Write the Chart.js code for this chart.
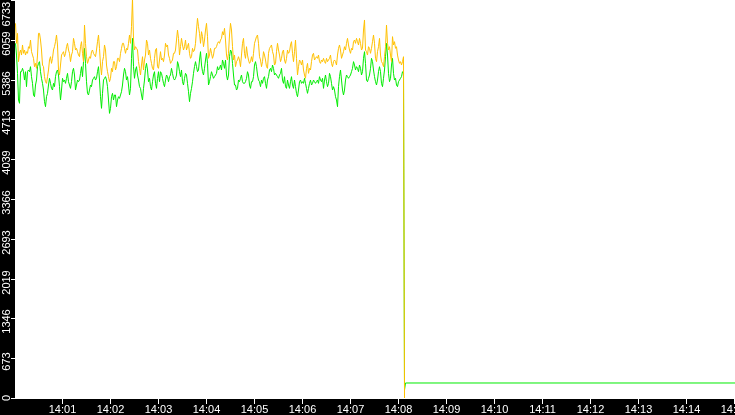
<!DOCTYPE html>
<html><head><meta charset="utf-8">
<script src="https://cdn.jsdelivr.net/npm/chart.js@4.4.1/dist/chart.umd.min.js"></script>
<style>html,body{margin:0;padding:0;background:#fff;overflow:hidden}canvas{display:block}</style>
</head><body>
<canvas id="c" width="735" height="415"></canvas>
<script>
// seconds after 14:00:00 of the first sample, and spacing between samples
const sampleStart = 0.625;
const sampleStep = 1.25;

const orangeValues = [
6338,6000,6169,5690,5831,5887,5802,5972,5831,5887,
5802,5859,5831,5943,5915,6056,5859,5802,5746,5605,
5661,5577,5802,6169,6169,6056,5887,5633,5605,5436,
5351,5323,5436,5549,5718,5774,5661,5746,5887,5943,
6028,6141,5972,5549,5464,5633,5802,5831,5859,5774,
5831,5943,6000,5887,5831,5690,5802,5859,6084,6000,
5887,5915,5859,5802,5774,5943,6028,5831,5690,6310,
6000,5774,5661,5718,5774,5746,5859,5887,5831,5802,
5774,5887,6028,6141,5915,5633,5464,5690,5774,5972,
5887,5633,5520,5436,5351,5408,5577,5520,5690,5690,
5549,
5605,5746,5746,5690,5831,5915,6000,6000,5915,5831,
5915,5887,6000,6141,6000,6282,6760,6056,5887,5943,
5915,5887,5690,5577,5464,5633,5774,5549,5718,5802,
6056,6000,5802,5887,5746,5661,5577,5549,5746,5887,
5915,5605,5577,5718,5859,5718,5746,5690,5802,6000,
5943,5972,5802,5746,5661,5690,5718,5831,5831,5887,
6056,6225,6084,5802,5943,6084,5972,5887,5943,6056,
5887,5943,6000,5831,5746,5774,5915,5859,5887,6000,
6225,6423,6282,6169,6000,6197,6113,5943,6056,6225,
6338,6113,5746,5802,5915,5831,5746,5802,5915,5915,
5943,6000,6028,6000,6056,6084,6197,6141,6254,6056,
5802,5718,5831,6141,6338,6225,5943,5718,5802,5605,
5690,5718,5774,5718,5605,5802,6000,6084,5831,5746,
5943,5802,5718,5661,5690,5774,5690,5831,6000,6056,
6113,6141,6000,5774,5718,5605,5690,5859,5802,5718,
5605,5577,5831,5915,5943,5972,5859,5802,5633,5661,
5859,6000,5887,5802,5690,5746,5859,5887,5718,5661,
5746,5887,5831,5859,5972,6028,5831,5690,5859,6056,
5746,5464,5605,5718,5690,5633,5718,5549,5464,5408,
5577,5661,5492,5577,5549,5690,5802,5831,5718,5746,
5774,5746,5802,5690,5661,5718,5690,5746,5690,5661,
5746,5690,5718,5746,5802,5661,5605,5690,5718,5690,
5633,5802,5915,5972,5887,5746,5802,5859,5943,5887,
6000,6084,5972,5887,5831,5915,5887,6028,6056,6000,
6084,6028,5972,6084,6000,5887,5915,6225,6395,5887,
5859,5802,5943,5915,5831,5915,6028,6141,6000,5746,
5690,5859,5943,6084,5802,5690,5661,5605,5774,5943,
6310,6000,5887,5943,5802,5690,6113,5972,6028,5915,
5943,5802,5718,5661,5690,5633,5690,5774
];

const greenValues = [
6000,5802,5492,5041,4985,5520,5520,5577,5520,5379,
5520,5267,5520,5549,5520,5605,5436,5323,5126,5097,
5295,5379,5605,5661,5690,5520,5408,5323,5210,5013,
4928,5097,5154,5295,5408,5323,5238,5210,5323,5267,
5436,5520,5549,5464,5267,5041,5210,5408,5351,5379,
5323,5408,5492,5351,5295,5238,5351,5520,5577,5464,
5210,5295,5379,5351,5379,5492,5605,5436,5690,5915,
5661,5351,5154,5126,5210,5295,5267,5379,5408,5436,
5379,5408,5520,5605,5379,5097,4900,5154,5379,5408,
5436,5379,5267,5041,4815,4900,5097,5154,5041,5126,
5126,
4928,5041,5097,5069,5126,5182,5295,5464,5577,5520,
5379,5436,5295,5126,5238,5746,6084,5605,5408,5549,
5605,5464,5379,5267,5238,5126,5041,5238,5379,5577,
5661,5549,5351,5408,5267,5210,5351,5464,5520,5323,
5238,5408,5520,5351,5520,5492,5408,5323,5267,5379,
5464,5436,5351,5436,5464,5577,5492,5408,5379,5408,
5464,5690,5633,5520,5436,5549,5351,5295,5408,5492,
5464,5323,5182,5013,5154,5238,5351,5492,5605,5690,
5605,5520,5549,5718,5859,5633,5520,5464,5577,5718,
5831,5661,5295,5351,5436,5520,5464,5408,5436,5464,
5492,5605,5549,5577,5633,5549,5718,5661,5577,5718,
5464,5379,5464,5774,5887,5859,5661,5464,5295,5295,
5210,5238,5379,5351,5408,5464,5351,5323,5323,5351,
5408,5520,5464,5295,5238,5351,5351,5436,5633,5690,
5605,5464,5379,5351,5267,5379,5323,5408,5436,5323,
5238,5379,5436,5549,5577,5520,5633,5577,5464,5492,
5464,5436,5408,5464,5492,5577,5379,5323,5436,5267,
5238,5379,5295,5238,5351,5436,5295,5238,5379,5267,
5154,5097,5210,5351,5379,5323,5351,5323,5408,5323,
5238,5154,5238,5323,5379,5295,5323,5379,5351,5323,
5351,5379,5323,5436,5379,5351,5408,5238,5379,5464,
5351,5267,5323,5492,5436,5323,5210,5267,5210,5097,
5041,4928,5267,5436,5549,5379,5210,5126,5210,5379,
5464,5436,5408,5436,5464,5520,5577,5690,5633,5549,
5605,5577,5520,5633,5577,5464,5520,5746,5859,5661,
5379,5351,5408,5464,5577,5746,5690,5549,5436,5351,
5295,5379,5520,5605,5520,5323,5267,5408,5549,5774,
6000,5802,5492,5351,5408,5633,5746,5492,5379,5408,
5295,5267,5351,5379,5408,5436,5520,5492
];

// after the drop (seconds after 14:00:00)
const orangeTailTimes = [486.875];
const orangeTailValues = [0];
const greenTailTimes = [486.875, 488.125, 900];
const greenTailValues = [135, 254, 254];

const xTickSeconds = [60,120,180,240,300,360,420,480,540,600,660,720,780,840,900];
const xTickLabels = ['14:01','14:02','14:03','14:04','14:05','14:06','14:07','14:08','14:09','14:10','14:11','14:12','14:13','14:14','14:15'];
const yTickValues = [0,673.3,1346.6,2019.9,2693.2,3366.5,4039.8,4713.1,5386.4,6059.7,6733];
const yTickLabels = ['0','673','1346','2019','2693','3366','4039','4713','5386','6059','6733'];
const xMin = 0, xMax = 900, yMin = 0, yMax = 6733;

function toPoints(vals, tailT, tailV) {
  const a = vals.map((v, i) => ({ x: sampleStart + i * sampleStep, y: v }));
  tailT.forEach((t, i) => a.push({ x: t, y: tailV[i] }));
  return a;
}

const axesPlugin = {
  id: 'blackAxes',
  afterDraw(chart) {
    const { ctx, chartArea: ca, scales } = chart;
    const xs = scales.x, ys = scales.y;
    ctx.save();
    ctx.fillStyle = '#000';
    ctx.fillRect(0, 0, ca.left, chart.height);
    ctx.fillRect(0, ca.bottom + 1, chart.width, chart.height - ca.bottom - 1);
    ctx.strokeStyle = '#fff';
    ctx.fillStyle = '#fff';
    ctx.lineWidth = 1;
    ctx.font = '11px "Liberation Sans", Arial, sans-serif';
    ctx.textAlign = 'center';
    ctx.textBaseline = 'alphabetic';
    xTickSeconds.forEach((s, i) => {
      const px = Math.round(xs.getPixelForValue(s)) - 0.5;
      ctx.beginPath();
      ctx.moveTo(px, ca.bottom + 1);
      ctx.lineTo(px, ca.bottom + 6);
      ctx.stroke();
      ctx.fillText(xTickLabels[i], px, chart.height - 2);
    });
    yTickValues.forEach((v, i) => {
      const py = Math.round(ys.getPixelForValue(v)) + 0.5;
      ctx.beginPath();
      ctx.moveTo(ca.left - 4, py);
      ctx.lineTo(ca.left, py);
      ctx.stroke();
      const lbl = yTickLabels[i];
      const w = ctx.measureText(lbl).width;
      let cy = py + 3;
      if (cy - w / 2 < 2) cy = w / 2 + 2;
      if (cy + w / 2 > ca.bottom + 3) cy = ca.bottom + 3 - w / 2;
      ctx.save();
      ctx.translate(10, cy);
      ctx.rotate(-Math.PI / 2);
      ctx.fillText(lbl, 0, 0);
      ctx.restore();
    });
    ctx.restore();
  }
};

new Chart(document.getElementById('c'), {
  type: 'line',
  data: {
    datasets: [
      { data: toPoints(orangeValues, orangeTailTimes, orangeTailValues), borderColor: '#ffc000', borderWidth: 1, pointRadius: 0, tension: 0, fill: false, order: 0 },
      { data: toPoints(greenValues, greenTailTimes, greenTailValues), borderColor: '#00ec00', borderWidth: 1, pointRadius: 0, tension: 0, fill: false, order: 1 }
    ]
  },
  options: {
    responsive: false,
    animation: false,
    events: [],
    layout: { padding: 0 },
    plugins: { legend: { display: false }, tooltip: { enabled: false } },
    scales: {
      x: { type: 'linear', min: xMin, max: xMax, ticks: { display: false }, grid: { display: false }, border: { display: false }, afterFit(s) { s.height = 17; } },
      y: { type: 'linear', min: yMin, max: yMax, ticks: { display: false }, grid: { display: false }, border: { display: false }, afterFit(s) { s.width = 15; } }
    }
  },
  plugins: [axesPlugin]
});
</script>
</body></html>
